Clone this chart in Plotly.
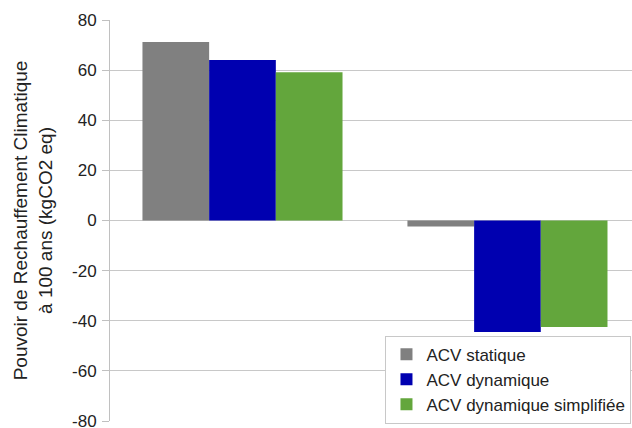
import plotly.graph_objects as go

categories = ["A", "B"]
series_names = ["ACV statique", "ACV dynamique", "ACV dynamique simplifiée"]
statique = [71.2, -2.4]
dynamique = [64.0, -44.5]
simplifiee = [59.2, -42.5]
colors = ["#808080", "#0000b0", "#63a63c"]
y_ticks = [-80, -60, -40, -20, 0, 20, 40, 60, 80]

fig = go.Figure()
for name, vals, c in zip(series_names, [statique, dynamique, simplifiee], colors):
    fig.add_trace(go.Bar(x=categories, y=vals, name=name, marker=dict(color=c, line=dict(width=0))))

fig.update_layout(
    width=632, height=428,
    margin=dict(l=110, r=0, t=20, b=7),
    paper_bgcolor="white", plot_bgcolor="white",
    barmode="group", bargap=0.245, bargroupgap=0,
    font=dict(family="Liberation Sans", color="#333333"),
    showlegend=True,
    legend=dict(x=0.999, y=0.213, xanchor="right", yanchor="top",
                bgcolor="white", bordercolor="#c8c8c8", borderwidth=1,
                font=dict(size=17, color="#222222"), tracegroupgap=0,
                itemsizing="constant"),
)
fig.update_xaxes(range=[-0.5, 1.47], showticklabels=False, showgrid=False, ticks="",
                 showline=False, zeroline=False, automargin=False)
fig.update_yaxes(range=[-80, 80], tickvals=y_ticks, ticktext=[str(v) for v in y_ticks],
                 automargin=False, ticklabeloverflow="allow",
                 showgrid=True, gridcolor="#c8c8c8", gridwidth=1,
                 zeroline=True, zerolinecolor="#c8c8c8", zerolinewidth=1,
                 showline=True, linecolor="#c0c0c0", linewidth=1,
                 ticks="outside", ticklen=7, tickcolor="#c0c0c0", ticklabelstandoff=2,
                 tickfont=dict(size=17, color="#222222"),
                 title=dict(text="Pouvoir de Rechauffement Climatique<br>à 100 ans (kgCO2 eq)",
                            font=dict(size=19, color="#222222"), standoff=14))
fig.write_html("out.html", config={"displayModeBar": False},
               post_script="document.body.style.margin='0';document.body.style.overflow='hidden';")
